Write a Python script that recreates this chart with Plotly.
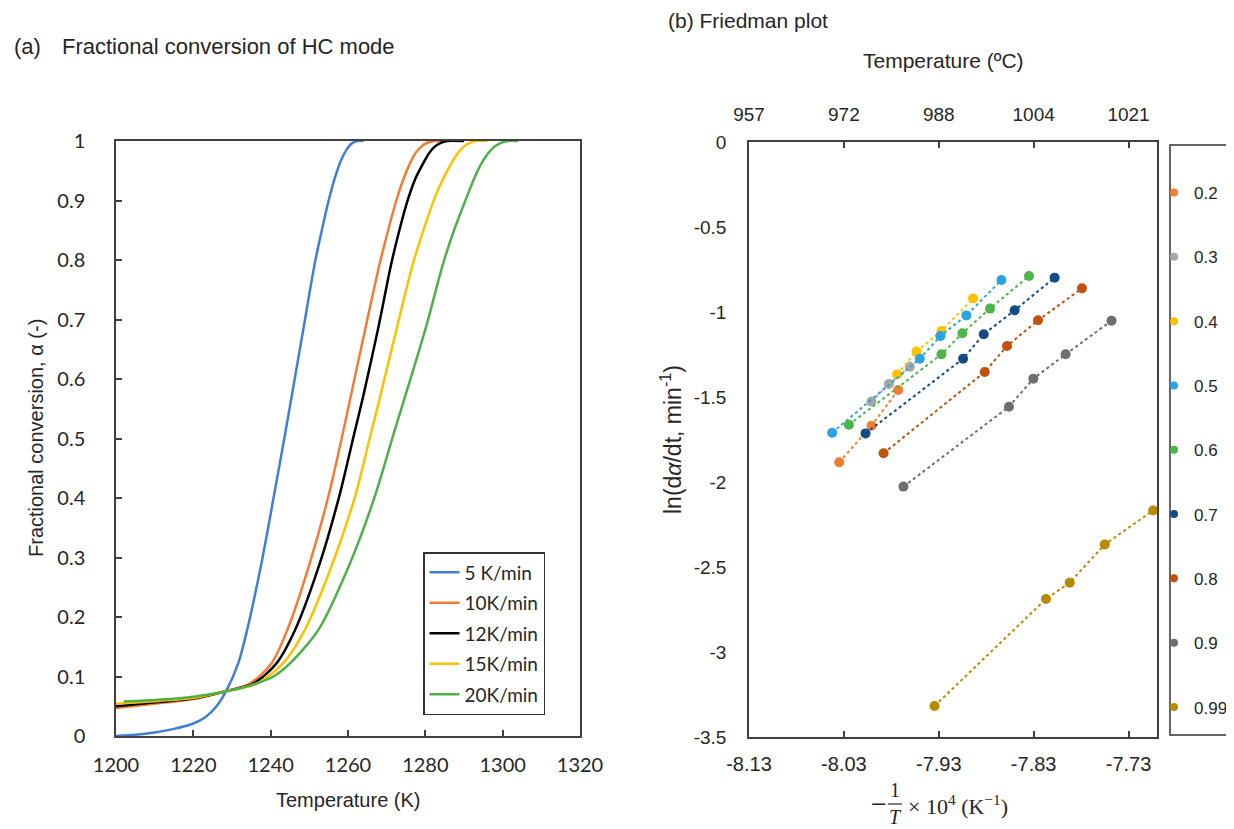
import plotly.graph_objects as go

# page body has an 8px margin: figure is sized/offset so that it lands on the reference pixels
OFF = 8
W, H = 1234 - OFF, 829 - OFF

# ---------------- Panel (a) data: fractional conversion vs temperature ----------------
rates = ["5 K/min", "10K/min", "12K/min", "15K/min", "20K/min"]
rate_colors = ["#3F7FD8", "#F57B33", "#000000", "#FFC000", "#4DB04A"]

T_5 = [1200, 1205, 1210, 1215, 1220, 1223, 1226, 1228.6, 1231.6, 1233.8, 1237.6, 1240.8, 1243.9,
       1248.4, 1251.4, 1253.3, 1255.0, 1256.6, 1258.1, 1259.6, 1261.0, 1262.5, 1264]
a_5 = [0.0, 0.002, 0.006, 0.012, 0.021, 0.031, 0.050, 0.077, 0.122, 0.175, 0.290, 0.402, 0.514,
       0.682, 0.794, 0.852, 0.900, 0.938, 0.966, 0.985, 0.996, 1.0, 1.0]

T_10 = [1200, 1211, 1220, 1227.6, 1234.6, 1240.2, 1244.3, 1250.1, 1254.9, 1258.7, 1261.5, 1264.5,
        1268.2, 1270.5, 1272.5, 1274.4, 1276, 1277.5, 1279.0, 1280.5, 1282.5, 1284.5]
a_10 = [0.047, 0.055, 0.062, 0.074, 0.088, 0.122, 0.178, 0.290, 0.402, 0.510, 0.595, 0.685,
        0.794, 0.853, 0.900, 0.937, 0.962, 0.980, 0.991, 0.997, 1.0, 1.0]

T_12 = [1200, 1211, 1220, 1227.6, 1235.5, 1241.5, 1246.3, 1252.7, 1257.7, 1261.5, 1263.9, 1267.8,
        1271.2, 1273.4, 1275.5, 1277.5, 1279.4, 1281.0, 1282.5, 1284.0, 1285.6, 1290]
a_12 = [0.050, 0.057, 0.063, 0.074, 0.088, 0.122, 0.178, 0.290, 0.402, 0.505, 0.570, 0.685,
        0.794, 0.853, 0.902, 0.938, 0.962, 0.980, 0.991, 0.997, 1.0, 1.0]

T_15 = [1200, 1211, 1220, 1227.6, 1236.4, 1243.2, 1248.8, 1256, 1261.8, 1265.6, 1268.3, 1272.6,
        1276.8, 1279.6, 1282.4, 1284.7, 1286.7, 1288.4, 1290.0, 1291.5, 1293.0, 1296]
a_15 = [0.054, 0.059, 0.064, 0.074, 0.088, 0.122, 0.178, 0.290, 0.402, 0.500, 0.570, 0.685,
        0.794, 0.852, 0.904, 0.938, 0.962, 0.980, 0.991, 0.997, 1.0, 1.0]

T_20 = [1202, 1211, 1220, 1227.6, 1233.8, 1240.7, 1245, 1252.3, 1260.5, 1266.9, 1271.9, 1276.3,
        1280.3, 1284.6, 1287.7, 1290.6, 1292.5, 1294.3, 1296.2, 1298.0, 1299.6, 1301.2, 1304]
a_20 = [0.058, 0.061, 0.066, 0.074, 0.083, 0.100, 0.122, 0.178, 0.290, 0.402, 0.510, 0.603,
        0.690, 0.794, 0.855, 0.904, 0.935, 0.960, 0.979, 0.991, 0.997, 1.0, 1.0]

# ---------------- Panel (b) data: Friedman plot ----------------
conv_levels = ["0.2", "0.3", "0.4", "0.5", "0.6", "0.7", "0.8", "0.9", "0.99"]
conv_colors = ["#F47C30", "#A6A6A6", "#FFC000", "#2AA3DF", "#4CB648",
               "#124C86", "#C2500F", "#6E6E6E", "#B88A00"]

x_02 = [-8.0349, -8.0009, -7.9728]
y_02 = [-1.884, -1.669, -1.459]
x_03 = [-8.0009, -7.9826, -7.9605]
y_03 = [-1.527, -1.424, -1.322]
x_04 = [-7.9739, -7.9535, -7.9272, -7.8939]
y_04 = [-1.367, -1.233, -1.112, -0.920]
x_05 = [-8.0423, -7.9500, -7.9282, -7.9009, -7.8640]
y_05 = [-1.710, -1.275, -1.141, -1.020, -0.812]
x_06 = [-8.0247, -7.9272, -7.9051, -7.8760, -7.8349]
y_06 = [-1.663, -1.249, -1.125, -0.980, -0.788]
x_07 = [-8.0072, -7.9044, -7.8826, -7.8500, -7.8079]
y_07 = [-1.714, -1.275, -1.131, -0.990, -0.798]
x_08 = [-7.9882, -7.8816, -7.8581, -7.8254, -7.7791]
y_08 = [-1.831, -1.353, -1.200, -1.049, -0.861]
x_09 = [-7.9672, -7.8560, -7.8303, -7.7963, -7.7479]
y_09 = [-2.027, -1.557, -1.392, -1.249, -1.051]
x_099 = [-7.9345, -7.8170, -7.7920, -7.7550, -7.7040]
y_099 = [-3.318, -2.688, -2.592, -2.367, -2.167]

invT_ticks = [-8.13, -8.03, -7.93, -7.83, -7.73]
invT_ticktext = ["-8.13", "-8.03", "-7.93", "-7.83", "-7.73"]
tempC_ticktext = ["957", "972", "988", "1004", "1021"]
lnr_ticks = [0, -0.5, -1, -1.5, -2, -2.5, -3, -3.5]
lnr_ticktext = ["0", "-0.5", "-1", "-1.5", "-2", "-2.5", "-3", "-3.5"]


def px(x):
    return (x - OFF) / W


def py(y):
    return 1 - (y - OFF) / H


AXC = "#404040"
TXT = "#262626"
ARIAL = "Liberation Sans, Arial, sans-serif"
CALIB = "Lato, Carlito, Calibri, sans-serif"

fig = go.Figure()

# Panel (a) curves
for name, col, T, a in zip(rates, rate_colors, [T_5, T_10, T_12, T_15, T_20],
                           [a_5, a_10, a_12, a_15, a_20]):
    fig.add_trace(go.Scatter(x=T, y=a, mode="lines", name=name,
                             line=dict(color=col, width=2.5, shape="spline", smoothing=0.8),
                             xaxis="x", yaxis="y", legend="legend", legendgroup=name))

# Panel (b) series
bx = [x_02, x_03, x_04, x_05, x_06, x_07, x_08, x_09, x_099]
by = [y_02, y_03, y_04, y_05, y_06, y_07, y_08, y_09, y_099]
for name, col, xs, ys in zip(conv_levels, conv_colors, bx, by):
    fig.add_trace(go.Scatter(x=xs, y=ys, mode="lines+markers", name=name, showlegend=False,
                             line=dict(color=col, width=2, dash="dot"),
                             marker=dict(color=col, size=10),
                             xaxis="x2", yaxis="y2"))
# legend entries (marker only) for panel (b)
for name, col in zip(conv_levels, conv_colors):
    fig.add_trace(go.Scatter(x=[None], y=[None], mode="markers", name=name,
                             marker=dict(color=col, size=8),
                             xaxis="x2", yaxis="y2", legend="legend2", legendgroup="b" + name))
# empty trace so that the secondary (top, °C) axis is drawn
fig.add_trace(go.Scatter(x=[None], y=[None], mode="markers", showlegend=False,
                         xaxis="x3", yaxis="y2", hoverinfo="skip"))

axis_common = dict(showgrid=False, zeroline=False, showline=True, linecolor=AXC, linewidth=1.5,
                   mirror=True, tickcolor=AXC, ticklen=6, tickwidth=1.5)

fig.update_layout(
    width=W, height=H, margin=dict(l=0, r=0, t=0, b=0, autoexpand=False),
    paper_bgcolor="white", plot_bgcolor="white",
    font=dict(family=ARIAL, color=TXT, size=19),
    xaxis=dict(domain=[px(116), px(580)], range=[1200, 1320], dtick=20, tick0=1200,
               ticks="inside", anchor="y", tickfont=dict(family=CALIB, size=20, color=TXT),
               ticklabelstandoff=10, **axis_common),
    yaxis=dict(domain=[py(736), py(141)], range=[0, 1], dtick=0.1, ticks="inside", anchor="x",
               tickfont=dict(family=CALIB, size=20, color=TXT), ticklabelstandoff=25,
               **axis_common),
    xaxis2=dict(domain=[px(749), px(1157)], range=[-8.13, -7.70], tickvals=invT_ticks,
                ticktext=invT_ticktext, ticks="inside", anchor="y2",
                tickfont=dict(family=ARIAL, size=20, color=TXT), ticklabelstandoff=8,
                **axis_common),
    xaxis3=dict(overlaying="x2", side="top", anchor="y2", range=[-8.13, -7.70],
                tickvals=invT_ticks, ticktext=tempC_ticktext, ticks="inside", ticklen=6,
                tickwidth=1.5, tickcolor=AXC, showgrid=False, zeroline=False, showline=False,
                tickfont=dict(family=ARIAL, size=19, color=TXT), ticklabelstandoff=16),
    yaxis2=dict(domain=[py(737), py(142)], range=[-3.5, 0], tickvals=lnr_ticks,
                ticktext=lnr_ticktext, ticks="", anchor="x2",
                tickfont=dict(family=ARIAL, size=19, color=TXT), ticklabelstandoff=17,
                showgrid=False, zeroline=False, showline=True, linecolor=AXC, linewidth=1.5,
                mirror=True),
    legend=dict(x=px(423), y=py(552), xanchor="left", yanchor="top",
                bordercolor="#333333", borderwidth=1.5, bgcolor="white",
                font=dict(family=CALIB, size=19, color=TXT), tracegroupgap=2.8,
                itemwidth=30),
    legend2=dict(x=px(1154), y=py(175), xanchor="left", yanchor="top",
                 borderwidth=0, bgcolor="rgba(0,0,0,0)",
                 font=dict(family=ARIAL, size=17, color=TXT), tracegroupgap=39.2,
                 itemwidth=30),
    showlegend=True,
)

ann = [
    dict(text="(a)", x=px(12), y=py(47), xanchor="left", yanchor="middle",
         font=dict(size=22)),
    dict(text="Fractional conversion of HC mode", x=px(60), y=py(47), xanchor="left",
         yanchor="middle", font=dict(size=22)),
    dict(text="(b) Friedman plot", x=px(666), y=py(20), xanchor="left", yanchor="middle",
         font=dict(size=21)),
    dict(text="Fractional conversion, α (-)", x=px(36), y=py(438), textangle=-90,
         xanchor="center", yanchor="middle", font=dict(size=20)),
    dict(text="Temperature (K)", x=px(348), y=py(800), xanchor="center", yanchor="middle",
         font=dict(size=20)),
    dict(text="Temperature (ºC)", x=px(943), y=py(60), xanchor="center", yanchor="middle",
         font=dict(size=21)),
    dict(text="ln(d<i>α</i>/dt, min<sup>-1</sup>)", x=px(671), y=py(440), textangle=-90,
         xanchor="center", yanchor="middle", font=dict(size=23)),
    dict(text="−", x=px(879), y=py(804), xanchor="center", yanchor="middle",
         font=dict(family="DejaVu Serif", size=21)),
    dict(text="1", x=px(895), y=py(790), xanchor="center", yanchor="middle",
         font=dict(family="Liberation Serif", size=20)),
    dict(text="<i>T</i>", x=px(895), y=py(817), xanchor="center", yanchor="middle",
         font=dict(family="Liberation Serif", size=20)),
    dict(text="× 10<sup>4</sup> (K<sup>−1</sup>)", x=px(906), y=py(805), xanchor="left",
         yanchor="middle", font=dict(family="Liberation Serif", size=22)),
]
for a in ann:
    a.update(xref="paper", yref="paper", showarrow=False)
    a.setdefault("font", {})
    a["font"].setdefault("color", TXT)
    a["font"].setdefault("family", ARIAL)
fig.update_layout(annotations=ann)
# fraction bar of the x-axis formula and the frame of the right-hand legend
fig.add_shape(type="line", xref="paper", yref="paper", x0=px(888), x1=px(902),
              y0=py(804), y1=py(804), line=dict(color=TXT, width=1.2))
fig.add_shape(type="rect", xref="paper", yref="paper", x0=px(1170), x1=px(1250),
              y0=py(735), y1=py(145), line=dict(color="#333333", width=1.5),
              fillcolor="rgba(0,0,0,0)", layer="below")

fig.write_html("out.html")
